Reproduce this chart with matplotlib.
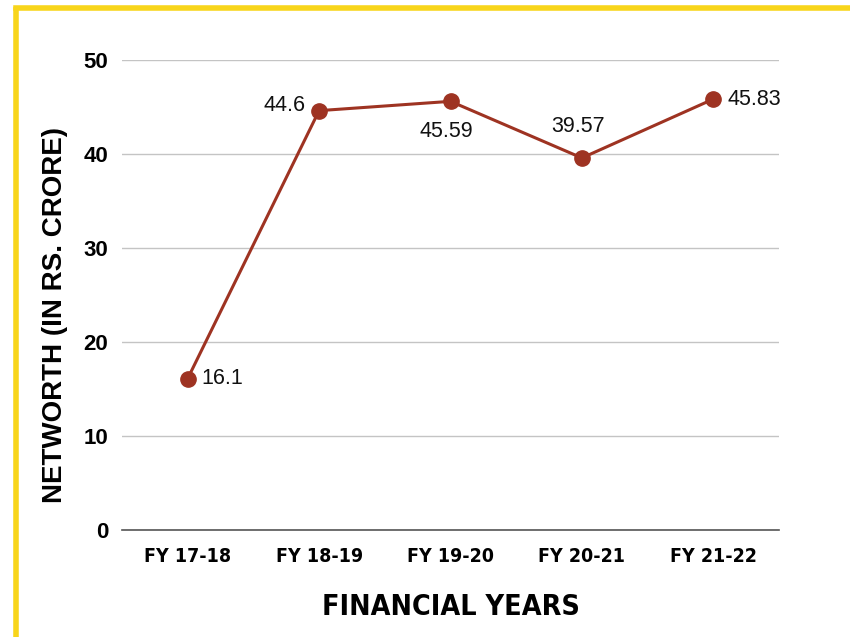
import matplotlib
matplotlib.use("Agg")
import matplotlib.pyplot as plt
from matplotlib.lines import Line2D

# data
years = ["FY 17-18", "FY 18-19", "FY 19-20", "FY 20-21", "FY 21-22"]
networth = [16.1, 44.6, 45.59, 39.57, 45.83]
labels = ["16.1", "44.6", "45.59", "39.57", "45.83"]
yticks = [0, 10, 20, 30, 40, 50]

line_col = "#9e3322"
yellow = "#f8d51b"

fig = plt.figure(figsize=(8.5, 6.37), dpi=100)
ax = fig.add_axes([0.1435, 0.168, 0.773, 0.738])

x = list(range(len(years)))
ax.plot(x, networth, color=line_col, lw=2.2, marker="o", ms=11, zorder=3)

# data labels, placed around each point
offsets = [(10, 0, "left", "center"),
           (-10, 4, "right", "center"),
           (-3, -14, "center", "top"),
           (-3, 15, "center", "bottom"),
           (10, 0, "left", "center")]
for xi, yi, lab, (dx, dy, ha, va) in zip(x, networth, labels, offsets):
    ax.annotate(lab, (xi, yi), xytext=(dx, dy), textcoords="offset points",
                ha=ha, va=va, fontsize=15.5, family="Liberation Sans", color="#111111")

ax.set_xlim(-0.5, 4.5)
ax.set_ylim(0, 50)
ax.set_yticks(yticks)
ax.set_xticks(x)
ax.set_xticklabels(years, family="DejaVu Sans", fontstretch="condensed",
                   fontweight="bold", fontsize=14)
for t in ax.get_yticklabels():
    t.set_family("Liberation Sans")
    t.set_fontweight("bold")
    t.set_fontsize(16)
ax.tick_params(length=0, pad=12)
ax.tick_params(axis="y", pad=10)

ax.grid(axis="y", color="#c4c4c4", lw=1)
ax.set_axisbelow(True)
for s in ["top", "right", "left"]:
    ax.spines[s].set_visible(False)
ax.spines["bottom"].set_color("#555555")
ax.spines["bottom"].set_linewidth(1.2)

ax.set_xlabel("FINANCIAL YEARS", family="DejaVu Sans", fontstretch="condensed",
              fontweight="bold", fontsize=20.5, labelpad=20)
ax.set_ylabel("NETWORTH (IN RS. CRORE)", family="Liberation Sans",
              fontweight="bold", fontsize=20)
ax.yaxis.set_label_coords(-0.082, 0.457)

# yellow frame lines
fig.add_artist(Line2D([16 / 850, 1], [1 - 8 / 637, 1 - 8 / 637], color=yellow,
                      lw=4, transform=fig.transFigure))
fig.add_artist(Line2D([16 / 850, 16 / 850], [0, 1 - 10 / 637], color=yellow,
                      lw=4, transform=fig.transFigure))

fig.savefig("out.png", dpi=100)
